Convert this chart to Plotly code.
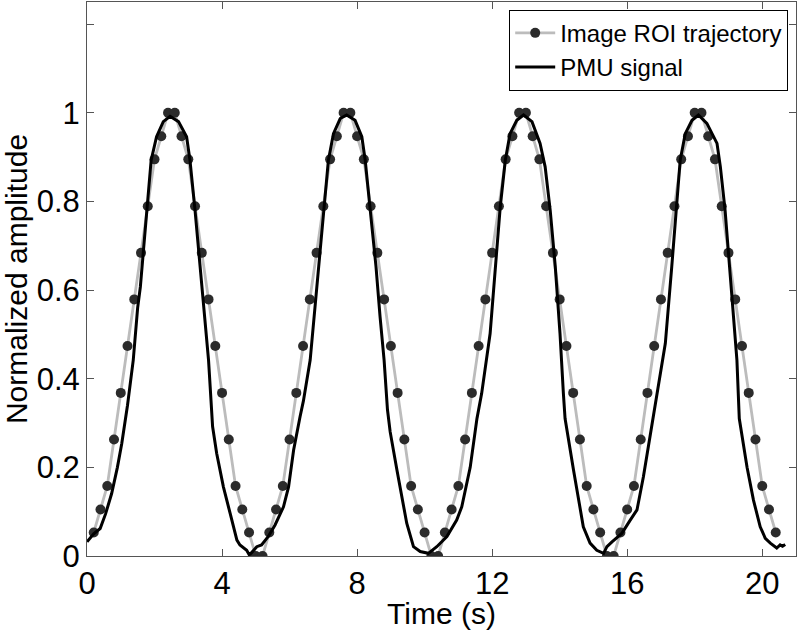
import numpy as np
import plotly.graph_objects as go

# Image ROI trajectory, sampled every 0.2 s
roi_t = np.round(np.arange(1, 103) * 0.2, 1)
roi_y = [0.053, 0.105, 0.158, 0.263, 0.368, 0.474, 0.579, 0.684, 0.789, 0.895, 0.947, 1.0, 1.0,
         0.947, 0.895, 0.789, 0.684, 0.579, 0.474, 0.368, 0.263, 0.158, 0.105, 0.053, 0.0, 0.0,
         0.053, 0.105, 0.158, 0.263, 0.368, 0.474, 0.579, 0.684, 0.789, 0.895, 0.947, 1.0, 1.0,
         0.947, 0.895, 0.789, 0.684, 0.579, 0.474, 0.368, 0.263, 0.158, 0.105, 0.053, 0.0, 0.0,
         0.053, 0.105, 0.158, 0.263, 0.368, 0.474, 0.579, 0.684, 0.789, 0.895, 0.947, 1.0, 1.0,
         0.947, 0.895, 0.789, 0.684, 0.579, 0.474, 0.368, 0.263, 0.158, 0.105, 0.053, 0.0, 0.0,
         0.053, 0.105, 0.158, 0.263, 0.368, 0.474, 0.579, 0.684, 0.789, 0.895, 0.947, 1.0, 1.0,
         0.947, 0.895, 0.789, 0.684, 0.579, 0.474, 0.368, 0.263, 0.158, 0.105, 0.053]

# PMU signal
pmu_t = [0.00, 0.20, 0.39, 0.55, 0.73, 0.90, 1.03, 1.20, 1.37, 1.50, 1.58, 1.77, 1.90, 2.06, 2.26,
         2.46, 2.71, 2.95, 3.05, 3.20, 3.35, 3.47, 3.60, 3.66, 3.72, 3.84, 4.04, 4.24, 4.44, 4.53,
         4.73, 4.81, 4.93, 5.03, 5.17, 5.37, 5.57, 5.82, 5.97, 6.12, 6.31, 6.41, 6.61, 6.81, 7.00,
         7.15, 7.30, 7.50, 7.69, 7.94, 8.14, 8.24, 8.39, 8.56, 8.68, 8.80, 8.90, 8.98, 9.18, 9.47,
         9.67, 9.87, 10.11, 10.36, 10.66, 10.95, 11.10, 11.35, 11.55, 11.69, 11.94, 12.09, 12.24,
         12.39, 12.53, 12.73, 12.93, 13.18, 13.42, 13.57, 13.72, 13.87, 14.01, 14.11, 14.16, 14.41,
         14.70, 14.90, 15.10, 15.30, 15.40, 15.55, 15.84, 16.09, 16.29, 16.48, 16.70, 16.90, 17.13,
         17.32, 17.45, 17.57, 17.72, 17.92, 18.11, 18.36, 18.66, 18.76, 18.90, 19.03, 19.15, 19.25,
         19.32, 19.55, 19.74, 19.94, 20.09, 20.24, 20.43, 20.53, 20.60, 20.68]
pmu_y = [0.032, 0.050, 0.062, 0.095, 0.141, 0.200, 0.254, 0.340, 0.442, 0.560, 0.607, 0.785, 0.893,
         0.946, 0.980, 0.992, 0.980, 0.946, 0.893, 0.780, 0.653, 0.535, 0.442, 0.367, 0.292, 0.232,
         0.156, 0.096, 0.036, 0.025, 0.013, 0.002, 0.013, 0.021, 0.025, 0.044, 0.070, 0.111, 0.156,
         0.239, 0.314, 0.350, 0.442, 0.607, 0.780, 0.893, 0.953, 0.987, 0.995, 0.983, 0.946, 0.893,
         0.780, 0.653, 0.540, 0.442, 0.330, 0.280, 0.194, 0.074, 0.021, 0.010, 0.006, 0.021, 0.044,
         0.081, 0.111, 0.200, 0.310, 0.367, 0.502, 0.653, 0.788, 0.893, 0.953, 0.983, 0.995, 0.980,
         0.931, 0.878, 0.780, 0.653, 0.502, 0.367, 0.310, 0.194, 0.066, 0.029, 0.013, 0.006, 0.021,
         0.032, 0.051, 0.081, 0.104, 0.179, 0.280, 0.370, 0.480, 0.653, 0.788, 0.893, 0.953, 0.983,
         0.995, 0.976, 0.931, 0.878, 0.780, 0.653, 0.530, 0.442, 0.310, 0.200, 0.126, 0.066, 0.040,
         0.029, 0.018, 0.025, 0.022, 0.026]

x_ticks = [0, 4, 8, 12, 16, 20]
y_ticks = [0, 0.2, 0.4, 0.6, 0.8, 1.0, 1.2]
y_ticktext = ["0", "0.2", "0.4", "0.6", "0.8", "1", ""]

font = "Liberation Sans, Arial, sans-serif"

fig = go.Figure()
fig.add_trace(go.Scatter(
    x=roi_t, y=roi_y, mode="lines+markers", name="Image ROI trajectory",
    line=dict(color="#bcbcbc", width=2.8),
    marker=dict(color="#2b2b2b", size=10),
))
fig.add_trace(go.Scatter(
    x=pmu_t, y=pmu_y, mode="lines", name="PMU signal",
    line=dict(color="black", width=3),
))

axis_common = dict(
    showgrid=False, zeroline=False, showline=True, linecolor="#555", linewidth=1,
    mirror="ticks", ticks="inside", ticklen=7, tickcolor="#555",
    tickfont=dict(size=31, color="black"), automargin=False,
)
fig.update_xaxes(range=[0, 21], tickvals=x_ticks,
                 title=dict(text="Time (s)", font=dict(size=30, color="black"), standoff=0),
                 **axis_common)
fig.update_yaxes(range=[0, 1.25], tickvals=y_ticks, ticktext=y_ticktext,
                 title=dict(text="Normalized amplitude", font=dict(size=30, color="black"), standoff=2),
                 **axis_common)

fig.update_layout(
    width=798, height=630,
    margin=dict(l=87, r=2, t=2, b=74),
    paper_bgcolor="white", plot_bgcolor="white",
    font=dict(family=font, color="black"),
    legend=dict(x=0.989, y=0.986, xanchor="right", yanchor="top",
                bordercolor="black", borderwidth=1, bgcolor="white",
                font=dict(size=24), tracegroupgap=0, itemwidth=40),
    showlegend=True,
)

# page has a default 8px body margin; drop it so the figure sits at the corner
fig.write_html("out.html", config={"displayModeBar": False},
               post_script="document.body.style.margin='0';")
